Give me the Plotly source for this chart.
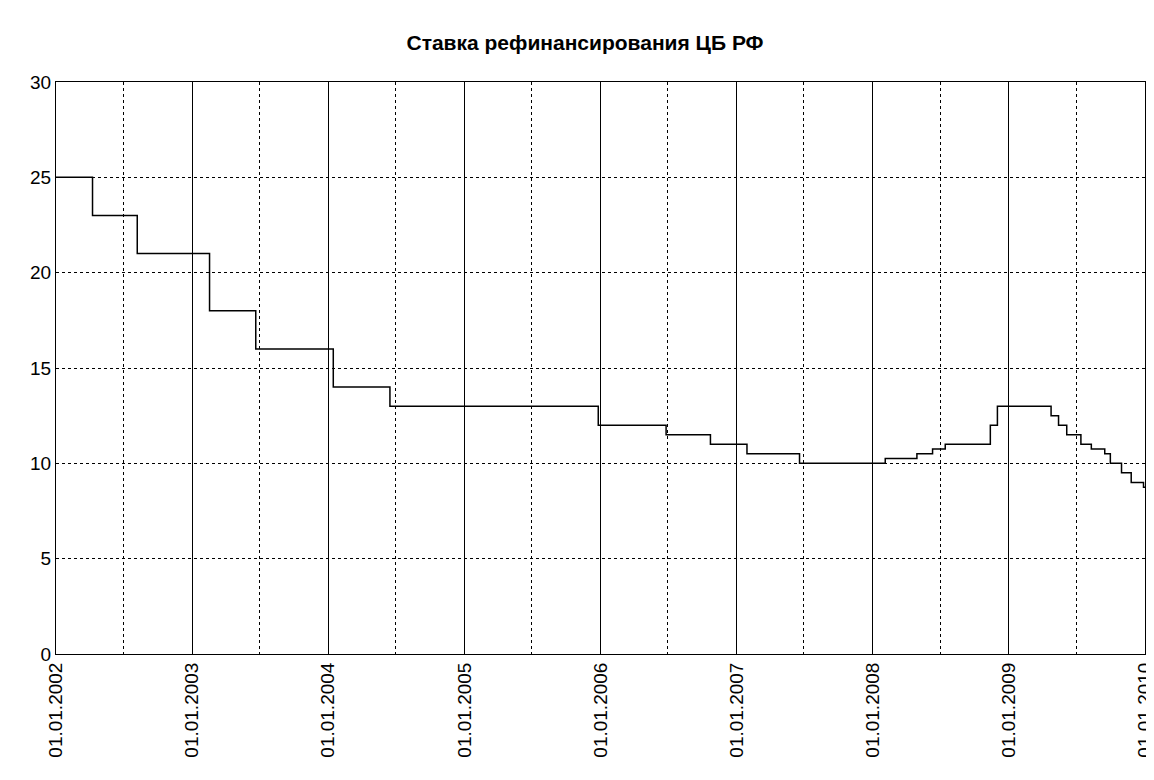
import plotly.graph_objects as go

# Refinancing rate change dates and values
dates = ["2002-01-01", "2002-04-09", "2002-08-07", "2003-02-17", "2003-06-21",
         "2004-01-15", "2004-06-15", "2005-12-26", "2006-06-26", "2006-10-23",
         "2007-01-29", "2007-06-19", "2008-02-04", "2008-04-29", "2008-06-10",
         "2008-07-14", "2008-11-12", "2008-12-01", "2009-04-24", "2009-05-14",
         "2009-06-05", "2009-07-13", "2009-08-10", "2009-09-15", "2009-09-30",
         "2009-10-30", "2009-11-25", "2009-12-28", "2010-01-01"]
rates = [25, 23, 21, 18, 16, 14, 13, 12, 11.5, 11, 10.5, 10, 10.25, 10.5, 10.75,
         11, 12, 13, 12.5, 12, 11.5, 11, 10.75, 10.5, 10, 9.5, 9, 8.75, 8.75]

years = list(range(2002, 2011))
tick_vals = ["%d-01-01" % y for y in years]
tick_text = ["01.01.%d" % y for y in years]

fig = go.Figure()
fig.add_trace(go.Scatter(x=dates, y=rates, mode="lines", line_shape="hv",
                         line=dict(color="black", width=1.5)))

fig.update_layout(
    width=1154, height=780,
    paper_bgcolor="white", plot_bgcolor="white",
    margin=dict(l=48, r=17, t=74, b=134),
    showlegend=False,
    font=dict(family="Liberation Sans, Arial", size=19, color="black"),
    title=dict(text="<b>Ставка рефинансирования ЦБ РФ</b>", x=0.5, xanchor="center",
               y=0.965, font=dict(size=21)),
    xaxis=dict(range=["2002-01-01", "2010-01-01"], tickvals=tick_vals, ticktext=tick_text,
               tickangle=-90, showgrid=True, gridcolor="black", gridwidth=1,
               showline=True, linecolor="black", mirror=True, ticks="",
               automargin=False,
               minor=dict(tickvals=["%d-07-01" % y for y in years[:-1]], showgrid=True,
                          gridcolor="black", griddash="dot", gridwidth=1)),
    yaxis=dict(range=[0, 30], dtick=5, showgrid=True, gridcolor="black", griddash="dot",
               gridwidth=1, showline=True, linecolor="black", mirror=True, ticks="",
               zeroline=False, automargin=False),
)

fig.write_html("out.html")
